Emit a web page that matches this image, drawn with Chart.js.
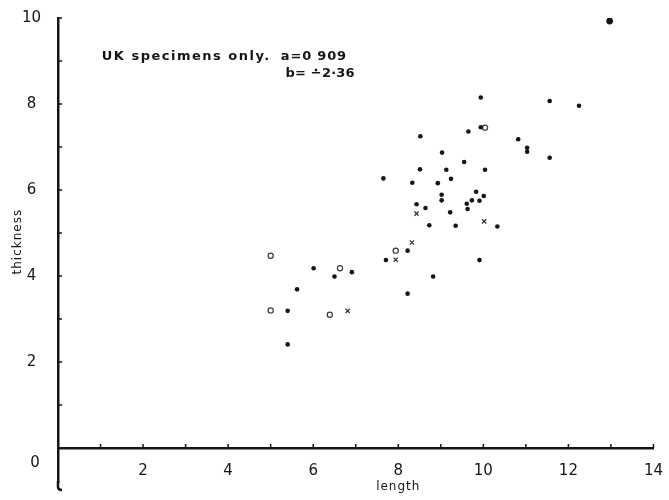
<!DOCTYPE html>
<html>
<head>
<meta charset="utf-8">
<script src="https://cdn.jsdelivr.net/npm/chart.js@4/dist/chart.umd.min.js"></script>
<style>
  body { margin: 0; background: #fff; }
</style>
</head>
<body>
<canvas id="chart" width="669" height="500"></canvas>
<script>
// filled dots (length, thickness)
const dotLength = [9.94, 11.56, 12.25, 9.94, 9.65, 8.52, 10.82, 11.03, 11.03, 11.56, 9.03, 9.55, 7.65, 8.51, 9.13, 10.04, 8.33, 8.93, 9.24, 9.02, 9.02, 9.83, 10.01, 9.73, 9.91, 9.61, 9.63, 8.43, 8.64, 9.22, 8.73, 9.35, 10.33, 8.22, 7.71, 9.91, 8.82, 8.22, 6.91, 6.50, 6.01, 5.62, 5.40, 5.40];
const dotThickness = [8.15, 8.07, 7.96, 7.46, 7.36, 7.25, 7.18, 6.98, 6.89, 6.75, 6.87, 6.65, 6.27, 6.48, 6.47, 6.47, 6.17, 6.16, 6.26, 5.89, 5.76, 5.96, 5.86, 5.76, 5.75, 5.68, 5.56, 5.67, 5.58, 5.48, 5.18, 5.17, 5.15, 4.59, 4.37, 4.37, 3.99, 3.59, 4.09, 3.99, 4.18, 3.69, 3.19, 2.41];

// the big dot top right
const bigLength = [12.97];
const bigThickness = [9.93];

// open circles
const circleLength = [10.04, 7.94, 6.63, 6.39, 5.00, 5.00];
const circleThickness = [7.45, 4.59, 4.18, 3.10, 4.47, 3.20];

// crosses
const crossLength = [8.43, 10.02, 8.32, 7.94, 6.81];
const crossThickness = [5.45, 5.27, 4.78, 4.38, 3.19];

// axes
const xTickLabels = [2, 4, 6, 8, 10, 12, 14];
const yTickLabels = [2, 4, 6, 8, 10];
const xMinorTicks = [1, 2, 3, 4, 5, 6, 7, 8, 9, 10, 11, 12, 13, 14];
const yMinorTicks = [1, 2, 3, 4, 5, 6, 7, 8, 9, 10];

const ink = '#151515';
const labelFont = { family: 'DejaVu Sans', size: 15 };

function toPoints(xs, ys) {
    return xs.map((x, i) => ({ x: x, y: ys[i] }));
}

// inward tick marks, the "0" label, axis titles and the note
const extras = {
    id: 'extras',
    afterDraw(chart) {
        const ctx = chart.ctx;
        const xs = chart.scales.x;
        const ys = chart.scales.y;
        const x0 = xs.getPixelForValue(0);
        const y0 = ys.getPixelForValue(0);
        ctx.save();
        ctx.strokeStyle = ink;
        ctx.lineWidth = 1.5;
        ctx.beginPath();
        xMinorTicks.forEach(v => {
            const px = xs.getPixelForValue(v);
            ctx.moveTo(px, y0);
            ctx.lineTo(px, y0 - 4);
        });
        yMinorTicks.forEach(v => {
            const py = ys.getPixelForValue(v);
            ctx.moveTo(x0, py);
            ctx.lineTo(x0 + 4, py);
        });
        ctx.stroke();

        // the vertical axis runs on a little below the chart area, ending in a hook
        ctx.lineWidth = 2.5;
        ctx.beginPath();
        ctx.moveTo(x0, ys.bottom - 1);
        ctx.lineTo(x0, y0 + 39);
        ctx.quadraticCurveTo(x0, y0 + 42, x0 + 4, y0 + 42);
        ctx.stroke();

        ctx.fillStyle = ink;
        ctx.textBaseline = 'middle';
        ctx.textAlign = 'center';
        ctx.font = '15px "DejaVu Sans"';
        ctx.fillText('0', x0 - 23, y0 + 15);

        ctx.font = '12px "DejaVu Sans"';
        ctx.letterSpacing = '1px';
        ctx.fillText('length', xs.getPixelForValue(8), y0 + 39);

        ctx.save();
        ctx.translate(18, ys.getPixelForValue(4.8));
        ctx.rotate(-Math.PI / 2);
        ctx.fillText('thickness', 0, 0);
        ctx.restore();

        ctx.font = 'bold 13px "DejaVu Sans"';
        ctx.textAlign = 'left';
        ctx.letterSpacing = '1.5px';
        ctx.fillText('UK specimens only.', xs.getPixelForValue(1.03), ys.getPixelForValue(9.1));
        ctx.letterSpacing = '0.8px';
        ctx.fillText('a=0 909', xs.getPixelForValue(5.24), ys.getPixelForValue(9.1));
        ctx.letterSpacing = '0.2px';
        ctx.fillText('b= \u22382\u00b736', xs.getPixelForValue(5.35), ys.getPixelForValue(8.7));
        ctx.restore();
    }
};

new Chart(document.getElementById('chart').getContext('2d'), {
    type: 'scatter',
    data: {
        datasets: [{
            data: toPoints(dotLength, dotThickness),
            pointStyle: 'circle',
            pointRadius: 2.3,
            backgroundColor: ink,
            borderColor: ink,
            borderWidth: 0
        }, {
            data: toPoints(bigLength, bigThickness),
            pointStyle: 'circle',
            pointRadius: 3.4,
            backgroundColor: ink,
            borderColor: ink,
            borderWidth: 0
        }, {
            data: toPoints(circleLength, circleThickness),
            pointStyle: 'circle',
            pointRadius: 2.6,
            backgroundColor: '#fff',
            borderColor: '#3a3a3a',
            borderWidth: 1.2
        }, {
            data: toPoints(crossLength, crossThickness),
            pointStyle: 'crossRot',
            pointRadius: 3,
            borderColor: '#333',
            borderWidth: 1.2
        }]
    },
    options: {
        responsive: false,
        animation: false,
        events: [],
        layout: { padding: { left: 1, right: 0, top: 12, bottom: 0 } },
        plugins: {
            legend: { display: false },
            tooltip: { enabled: false }
        },
        scales: {
            x: {
                type: 'linear',
                min: 0,
                max: 14,
                position: { y: 0 },
                grid: { display: false },
                border: { display: true, color: ink, width: 2.5 },
                afterBuildTicks: scale => { scale.ticks = xTickLabels.map(v => ({ value: v })); },
                ticks: { color: ink, font: labelFont, padding: 6, maxRotation: 0, autoSkip: false }
            },
            y: {
                type: 'linear',
                min: -0.79,
                max: 10,
                grid: { display: false },
                border: { display: true, color: ink, width: 2.5 },
                afterBuildTicks: scale => { scale.ticks = yTickLabels.map(v => ({ value: v })); },
                afterFit: scale => { scale.width = 57; },
                ticks: { color: ink, font: labelFont, padding: 9, crossAlign: 'center', autoSkip: false }
            }
        }
    },
    plugins: [extras]
});
</script>
</body>
</html>
